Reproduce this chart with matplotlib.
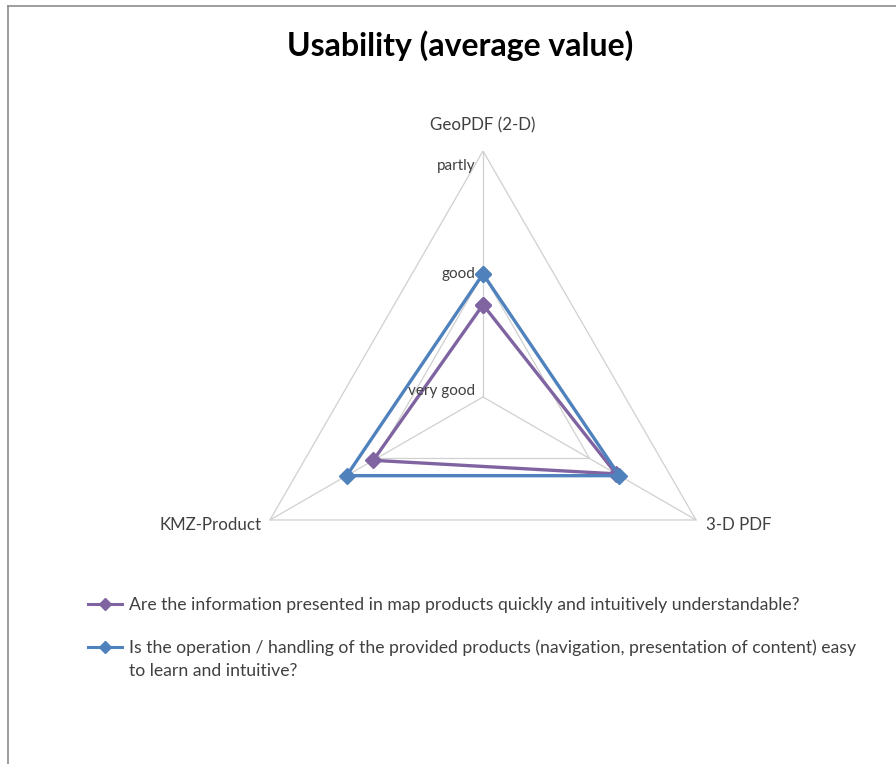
import numpy as np
import matplotlib
matplotlib.use("Agg")
import matplotlib.pyplot as plt
from matplotlib.lines import Line2D

plt.rcParams["font.family"] = ["Lato", "DejaVu Sans"]

# data
categories = ["GeoPDF (2-D)", "3-D PDF", "KMZ-Product"]
scale_labels = ["very good", "good", "partly"]
scale_values = [1, 2, 3]
understandable = [1.75, 2.25, 2.03]
handling = [2.0, 2.28, 2.28]
series_names = [
    "Are the information presented in map products quickly and intuitively understandable?",
    "Is the operation / handling of the provided products (navigation, presentation of content) easy",
]
series_name_cont = ["", "to learn and intuitive?"]
series_colors = ["#8064A2", "#4F81BD"]

r_min, r_max = scale_values[0], scale_values[-1]
angles = np.pi / 2 - np.arange(len(categories)) * 2 * np.pi / len(categories)


def to_xy(vals):
    r = (np.asarray(vals, dtype=float) - r_min) / (r_max - r_min)
    x = np.append(r * np.cos(angles), r[0] * np.cos(angles[0]))
    y = np.append(r * np.sin(angles), r[0] * np.sin(angles[0]))
    return x, y


fig = plt.figure(figsize=(8.96, 7.64), dpi=100)
ax = fig.add_axes([0.2645, 0.1584, 0.5491, 0.644])
ax.set_xlim(-1, 1)
ax.set_ylim(-1, 1)
ax.axis("off")

grid_color = "#D0D0D0"
# rings
for v in scale_values[1:]:
    gx, gy = to_xy([v] * len(categories))
    ax.plot(gx, gy, color=grid_color, lw=0.9, zorder=1)
# spokes
for a in angles:
    ax.plot([0, np.cos(a)], [0, np.sin(a)], color=grid_color, lw=0.9, zorder=1)

for vals, name, col in zip([understandable, handling], series_names, series_colors):
    sx, sy = to_xy(vals)
    ax.plot(sx, sy, color=col, lw=2.4, marker="D", markersize=8,
            markeredgecolor=col, label=name, zorder=3)

# tick labels along the top spoke (Excel nudges them a little)
label_nudge = [0.025, 0.0, -0.06]
for v, lab, dy in zip(scale_values, scale_labels, label_nudge):
    r = (v - r_min) / (r_max - r_min)
    ax.text(-0.03, r + dy, lab, ha="right", va="center", fontsize=11, color="#404040")

# category labels
ax.text(0, 1.07, categories[0], ha="center", va="bottom", fontsize=12.2, color="#404040")
ax.text(np.cos(angles[1]) + 0.04, np.sin(angles[1]) - 0.02, categories[1],
        ha="left", va="center", fontsize=12.2, color="#404040")
ax.text(np.cos(angles[2]) - 0.035, np.sin(angles[2]) - 0.02, categories[2],
        ha="right", va="center", fontsize=12.2, color="#404040")

fig.text(0.513, 0.94, "Usability (average value)", ha="center", va="center",
         fontsize=23, fontweight="bold", color="black")

leg = fig.legend(loc="upper left", bbox_to_anchor=(88 / 896, 1 - 597 / 764),
                 frameon=False, fontsize=12.7, handlelength=1.9, handletextpad=0.45,
                 labelspacing=1.5, borderaxespad=0, borderpad=0)
for t in leg.get_texts():
    t.set_color("#404040")
for h in leg.legend_handles:
    h.set_markersize(6)
    h.set_linewidth(2.2)

# wrapped continuation lines of the legend entries
fig.canvas.draw()
inv = fig.transFigure.inverted()
for t, extra in zip(leg.get_texts(), series_name_cont):
    if not extra:
        continue
    bb = t.get_window_extent()
    x0, y0 = inv.transform((bb.x0, bb.y0 - 23))
    fig.text(x0, y0, extra, ha="left", va="bottom", fontsize=12.7, color="#404040")

# chart area border (left and top edges visible)
border = "#8C8C8C"
fig.add_artist(Line2D([8 / 896, 8 / 896], [0, 1 - 6 / 764], color=border, lw=1.2))
fig.add_artist(Line2D([8 / 896, 1], [1 - 6 / 764, 1 - 6 / 764], color=border, lw=1.2))

fig.savefig("out.png", dpi=100)
